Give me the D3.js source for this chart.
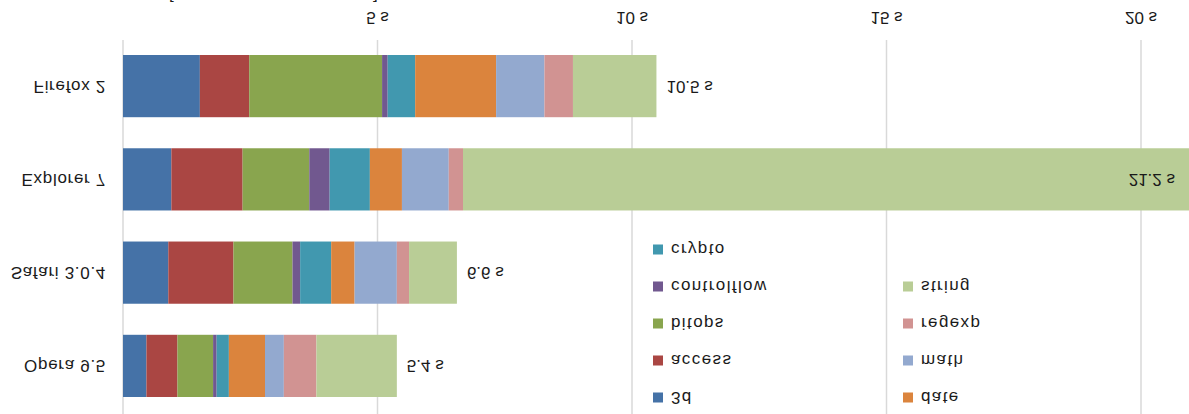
<!DOCTYPE html>
<html lang="en">
<head>
	<meta charset="UTF-8">
	<title>SunSpider totals</title>
	<script src="https://d3js.org/d3.v7.min.js"></script>
	<style>
		body, html {
			margin: 0;
			padding: 0;
			background: #fff;
			overflow: hidden;
		}
		svg { display: block; }
		text {
			font-family: "Liberation Sans", Arial, sans-serif;
			font-size: 17px;
			fill: #1a1a1a;
		}
		.grid line { stroke: #d9d9d9; stroke-width: 1.5; }
		.cat { letter-spacing: 0.7px; }
		.leg { letter-spacing: 1.4px; }
	</style>
</head>
<body>
<div id="chart"></div>
<script>
	// browsers, top to bottom in the unflipped chart
	const browsers = ["Opera 9.5", "Safari 3.0.4", "Explorer 7", "Firefox 2"];
	const tests = ["3d", "access", "bitops", "controlflow", "crypto", "date", "math", "regexp", "string"];
	const colors = ["#4572a7", "#aa4643", "#89a54e", "#71588f", "#4198af", "#db843d", "#93a9cf", "#d19392", "#b9cd96"];

	// seconds per test, same order as tests
	const opera = [0.46, 0.61, 0.70, 0.07, 0.24, 0.71, 0.37, 0.64, 1.58];
	const safari = [0.89, 1.28, 1.16, 0.15, 0.61, 0.46, 0.83, 0.24, 0.94];
	const explorer = [0.95, 1.40, 1.31, 0.40, 0.79, 0.63, 0.92, 0.28, 14.52];
	const firefox = [1.51, 0.97, 2.61, 0.11, 0.54, 1.59, 0.95, 0.56, 1.64];

	const xTicks = [5, 10, 15, 20];

	const values = { "Opera 9.5": opera, "Safari 3.0.4": safari, "Explorer 7": explorer, "Firefox 2": firefox };

	const width = 1189, height = 414;

	const svg = d3.select("#chart").append("svg")
		.attr("width", width)
		.attr("height", height);

	// the whole picture is mirrored top to bottom
	const g = svg.append("g")
		.attr("transform", `translate(0,${height}) scale(1,-1)`);

	const x = d3.scaleLinear().domain([0, 20]).range([123, 1141]);
	const y = d3.scaleBand().domain(browsers).range([17, 359]).paddingInner(0.333).paddingOuter(0);

	// gridlines
	const grid = g.append("g").attr("class", "grid");
	grid.selectAll("line")
		.data([0].concat(xTicks))
		.enter().append("line")
		.attr("x1", d => x(d)).attr("x2", d => x(d))
		.attr("y1", 0).attr("y2", 374);

	// tick labels
	g.append("g").selectAll("text")
		.data(xTicks)
		.enter().append("text")
		.attr("x", d => x(d))
		.attr("y", 397)
		.attr("text-anchor", "middle")
		.attr("dominant-baseline", "central")
		.text(d => d + " s");

	// bits of the axis title cut by the edge
	g.append("text").attr("x", 169).attr("y", 424).text("[");
	g.append("text").attr("x", 373).attr("y", 424).text("]");

	// stacked segments
	const rows = browsers.map(b => {
		let acc = 0;
		const segs = values[b].map((v, i) => {
			const s = { browser: b, test: tests[i], x0: acc, x1: acc + v, color: colors[i] };
			acc += v;
			return s;
		});
		return { browser: b, total: acc, segs: segs };
	});

	const bars = g.append("g");
	rows.forEach(r => {
		bars.selectAll(null)
			.data(r.segs)
			.enter().append("rect")
			.attr("x", d => x(d.x0))
			.attr("width", d => x(d.x1) - x(d.x0))
			.attr("y", y(r.browser))
			.attr("height", y.bandwidth())
			.attr("fill", d => d.color);
	});

	// category labels
	g.append("g").selectAll("text")
		.data(browsers)
		.enter().append("text")
		.attr("class", "cat")
		.attr("x", 106)
		.attr("y", d => y(d) + y.bandwidth() / 2)
		.attr("text-anchor", "end")
		.attr("dominant-baseline", "central")
		.text(d => d);

	// totals
	g.append("g").selectAll("text")
		.data(rows)
		.enter().append("text")
		.attr("x", d => x(d.total) > width ? width - 14 : x(d.total) + 10)
		.attr("y", d => y(d.browser) + y.bandwidth() / 2)
		.attr("text-anchor", d => x(d.total) > width ? "end" : "start")
		.attr("dominant-baseline", "central")
		.text(d => d.total.toFixed(1) + " s");

	// legend, two columns
	const legend = g.append("g");
	tests.forEach((t, i) => {
		const col = i < 5 ? 0 : 1;
		const row = i < 5 ? i : i - 5;
		const lx = col === 0 ? 653 : 903;
		const ly = 16.5 + row * 37;
		legend.append("rect")
			.attr("x", lx).attr("y", ly - 5)
			.attr("width", 10).attr("height", 10)
			.attr("fill", colors[i]);
		legend.append("text")
			.attr("class", "leg")
			.attr("x", lx + 18).attr("y", ly)
			.attr("dominant-baseline", "central")
			.text(t);
	});
</script>
</body>
</html>
